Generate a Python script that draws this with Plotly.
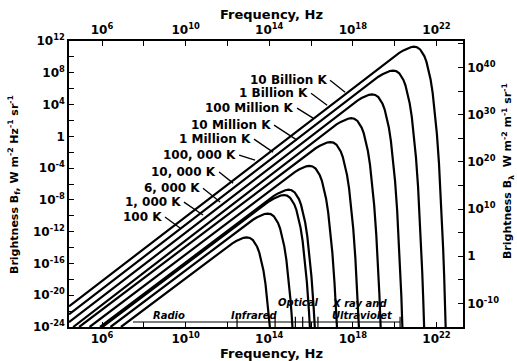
import plotly.graph_objects as go

# ---- data: log10(frequency / Hz) and log10(brightness) ----
lognu_100 = [6.905, 11.92, 12.22, 12.42, 12.62, 12.77, 12.92, 13.07, 13.22, 13.42, 13.52, 13.62, 13.72, 13.82, 13.92, 13.97, 14.03]
logb_100 = [-24.0, -14.03, -13.50, -13.18, -12.91, -12.78, -12.72, -12.79, -13.06, -13.90, -14.60, -15.56, -16.85, -18.56, -20.77, -22.12, -24.0]

lognu_1000 = [6.405, 12.92, 13.22, 13.42, 13.62, 13.77, 13.92, 14.07, 14.22, 14.42, 14.52, 14.62, 14.72, 14.82, 14.92, 15.02, 15.07, 15.11]
logb_1000 = [-24.0, -11.03, -10.50, -10.18, -9.91, -9.78, -9.72, -9.79, -10.06, -10.90, -11.60, -12.56, -13.85, -15.56, -17.77, -20.65, -22.38, -24.0]

lognu_6000 = [6.016, 13.70, 14.00, 14.20, 14.40, 14.55, 14.70, 14.85, 15.00, 15.20, 15.30, 15.40, 15.50, 15.60, 15.70, 15.80, 15.90, 15.945]
logb_6000 = [-24.0, -8.70, -8.17, -7.85, -7.58, -7.45, -7.39, -7.46, -7.73, -8.57, -9.27, -10.23, -11.52, -13.23, -15.44, -18.32, -22.01, -24.0]

lognu_1e4 = [5.905, 13.92, 14.22, 14.42, 14.62, 14.77, 14.92, 15.07, 15.22, 15.42, 15.52, 15.62, 15.72, 15.82, 15.92, 16.02, 16.12, 16.18]
logb_1e4 = [-24.0, -8.03, -7.50, -7.18, -6.91, -6.78, -6.72, -6.79, -7.06, -7.90, -8.60, -9.56, -10.85, -12.56, -14.77, -17.65, -21.34, -24.0]

lognu_1e5 = [5.405, 14.92, 15.22, 15.42, 15.62, 15.77, 15.92, 16.07, 16.22, 16.42, 16.52, 16.62, 16.72, 16.82, 16.92, 17.02, 17.12, 17.17, 17.24]
logb_1e5 = [-24.0, -5.03, -4.50, -4.18, -3.91, -3.78, -3.72, -3.79, -4.06, -4.90, -5.60, -6.56, -7.85, -9.56, -11.77, -14.65, -18.34, -20.56, -24.0]

lognu_1e6 = [4.905, 15.92, 16.22, 16.42, 16.62, 16.77, 16.92, 17.07, 17.22, 17.42, 17.52, 17.62, 17.72, 17.82, 17.92, 18.02, 18.12, 18.22, 18.29]
logb_1e6 = [-24.0, -2.03, -1.50, -1.18, -0.91, -0.78, -0.72, -0.79, -1.06, -1.90, -2.60, -3.56, -4.85, -6.56, -8.77, -11.65, -15.34, -20.07, -24.0]

lognu_1e7 = [4.62, 16.92, 17.22, 17.42, 17.62, 17.77, 17.92, 18.07, 18.22, 18.42, 18.52, 18.62, 18.72, 18.82, 18.92, 19.02, 19.12, 19.22, 19.27, 19.33]
logb_1e7 = [-24.0, 0.97, 1.50, 1.82, 2.09, 2.22, 2.28, 2.21, 1.94, 1.10, 0.40, -0.56, -1.85, -3.56, -5.77, -8.65, -12.34, -17.07, -19.90, -24.0]

lognu_1e8 = [4.42, 17.92, 18.22, 18.42, 18.62, 18.77, 18.92, 19.07, 19.22, 19.42, 19.52, 19.62, 19.72, 19.82, 19.92, 20.02, 20.12, 20.22, 20.32, 20.37]
logb_1e8 = [-23.40, 3.97, 4.50, 4.82, 5.09, 5.22, 5.28, 5.21, 4.94, 4.10, 3.40, 2.44, 1.15, -0.56, -2.77, -5.65, -9.34, -14.07, -20.10, -24.0]

lognu_1e9 = [4.42, 18.92, 19.22, 19.42, 19.62, 19.77, 19.92, 20.07, 20.22, 20.42, 20.52, 20.62, 20.72, 20.82, 20.92, 21.02, 21.12, 21.22, 21.32, 21.37, 21.41]
logb_1e9 = [-22.40, 6.97, 7.50, 7.82, 8.09, 8.22, 8.28, 8.21, 7.94, 7.10, 6.40, 5.44, 4.15, 2.44, 0.23, -2.65, -6.34, -11.07, -17.10, -20.70, -24.0]

lognu_1e10 = [4.42, 19.92, 20.22, 20.42, 20.62, 20.77, 20.92, 21.07, 21.22, 21.42, 21.52, 21.62, 21.72, 21.82, 21.92, 22.02, 22.12, 22.22, 22.32, 22.37, 22.42, 22.44]
logb_1e10 = [-21.40, 9.97, 10.50, 10.82, 11.09, 11.22, 11.28, 11.21, 10.94, 10.10, 9.40, 8.44, 7.15, 5.44, 3.23, 0.35, -3.34, -8.07, -14.10, -17.70, -21.77, -24.0]

curve_names = ["100 K", "1, 000 K", "6, 000 K", "10, 000 K", "100, 000 K",
               "1 Million K", "10 Million K", "100 Million K", "1 Billion K", "10 Billion K"]
curve_nu = [lognu_100, lognu_1000, lognu_6000, lognu_1e4, lognu_1e5,
            lognu_1e6, lognu_1e7, lognu_1e8, lognu_1e9, lognu_1e10]
curve_b = [logb_100, logb_1000, logb_6000, logb_1e4, logb_1e5,
           logb_1e6, logb_1e7, logb_1e8, logb_1e9, logb_1e10]

# label anchor (text right end) and leader line (start, end), log10 units
label_x = [9.01, 9.92, 10.83, 11.60, 12.56, 13.27, 14.23, 15.33, 16.00, 16.91]
label_y = [-10.16, -8.28, -6.52, -4.50, -2.36, -0.35, 1.41, 3.55, 5.43, 7.07]
leader_end_x = [9.73, 10.83, 11.65, 12.27, 13.32, 14.18, 15.33, 16.10, 16.77, 17.63]
leader_end_y = [-11.55, -9.91, -8.28, -5.89, -2.99, -1.99, -0.48, 2.29, 3.92, 5.56]

# spectral band annotations
band_names = ["Radio", "Infrared", "Optical", "X ray and", "Ultraviolet"]
band_x = [9.2, 13.3, 15.38, 18.34, 18.44]
band_y = [-22.49, -22.49, -20.86, -21.05, -22.55]
band_line_x = [7.48, 20.26]
band_line_y = [-23.37, -23.37]
band_tick_x = [12.46, 14.28, 15.25, 15.6, 16.33, 20.26]

# axes ticks (labelled / unlabelled exponents)
x_major = [6, 10, 14, 18, 22]
x_minor = [8, 12, 16, 20]
yl_major = list(range(-24, 13, 4))
yl_minor = list(range(-22, 12, 4))
yr_major = list(range(-10, 41, 10))
yr_minor = list(range(-15, 46, 10))

FONT = "DejaVu Sans"


def pw(e):
    return "<b>1</b>" if e == 0 else "<b>10<sup>%d</sup></b>" % e


def p10(v):
    return 10.0 ** v


fig = go.Figure()

for nu, b in zip(curve_nu, curve_b):
    fig.add_trace(go.Scatter(x=[p10(v) for v in nu], y=[p10(v) for v in b], mode="lines",
                             line=dict(color="black", width=2.2), showlegend=False, hoverinfo="skip"))

for i in range(len(curve_names)):
    fig.add_trace(go.Scatter(x=[p10(label_x[i]), p10(leader_end_x[i])],
                             y=[p10(label_y[i]), p10(leader_end_y[i])], mode="lines",
                             line=dict(color="black", width=1.3), showlegend=False, hoverinfo="skip"))
    fig.add_annotation(x=label_x[i], y=label_y[i], xref="x", yref="y", text="<b>%s</b>" % curve_names[i],
                       showarrow=False, xanchor="right", yanchor="middle", xshift=-1,
                       font=dict(family=FONT, size=12, color="black"))

# band line and ticks
fig.add_trace(go.Scatter(x=[p10(v) for v in band_line_x], y=[p10(v) for v in band_line_y], mode="lines",
                         line=dict(color="black", width=1.2), showlegend=False, hoverinfo="skip"))
for tx in band_tick_x:
    fig.add_trace(go.Scatter(x=[p10(tx), p10(tx)], y=[p10(-22.7), p10(-24)], mode="lines",
                             line=dict(color="black", width=1.2), showlegend=False, hoverinfo="skip"))
for name, bx, by in zip(band_names, band_x, band_y):
    fig.add_annotation(x=bx, y=by, xref="x", yref="y", text="<b><i>%s</i></b>" % name, showarrow=False,
                       font=dict(family=FONT, size=10, color="black"))

# dummy trace for the secondary axes
fig.add_trace(go.Scatter(x=[], y=[], xaxis="x2", yaxis="y2", showlegend=False))

axis_common = dict(showgrid=False, zeroline=False, showline=True, linecolor="black", linewidth=1.5,
                   ticks="inside", ticklen=5, tickwidth=1.3, tickcolor="black", automargin=False,
                   tickfont=dict(family=FONT, size=12, color="black"))


def minor(exps):
    return dict(tickvals=[p10(e) for e in exps], ticks="inside", ticklen=5, tickwidth=1.3,
                tickcolor="black", showgrid=False)


fig.update_layout(
    width=517, height=361, autosize=False,
    margin=dict(l=69, r=54, t=41, b=34),
    paper_bgcolor="white", plot_bgcolor="white",
    xaxis=dict(type="log", range=[4.42, 23.27],
               tickvals=[p10(e) for e in x_major], ticktext=[pw(e) for e in x_major],
               minor=minor(x_minor), **axis_common),
    xaxis2=dict(type="log", range=[4.42, 23.27], overlaying="x", side="top", anchor="y",
                tickvals=[p10(e) for e in x_major], ticktext=[pw(e) for e in x_major],
                minor=minor(x_minor), **axis_common),
    yaxis=dict(type="log", range=[-24, 12],
               tickvals=[p10(e) for e in yl_major], ticktext=[pw(e) for e in yl_major],
               minor=minor(yl_minor), **axis_common),
    yaxis2=dict(type="log", range=[-15.0, 45.6], overlaying="y", side="right", anchor="x",
                tickvals=[p10(e) for e in yr_major], ticktext=[pw(e) for e in yr_major],
                minor=minor(yr_minor), **axis_common),
)

# axis titles
fig.add_annotation(x=0.513, y=1.094, xref="paper", yref="paper", text="<b>Frequency, Hz</b>", showarrow=False,
                   xanchor="center", yanchor="middle", font=dict(family=FONT, size=13, color="black"))
fig.add_annotation(x=0.513, y=-0.093, xref="paper", yref="paper", text="<b>Frequency, Hz</b>", showarrow=False,
                   xanchor="center", yanchor="middle", font=dict(family=FONT, size=13, color="black"))
fig.add_annotation(x=-0.1396, y=0.50, xref="paper", yref="paper", textangle=-90, showarrow=False,
                   xanchor="center", yanchor="middle",
                   text="<b>Brightness B<sub>f</sub>, W m<sup>-2</sup> Hz<sup>-1</sup> sr<sup>-1</sup></b>",
                   font=dict(family=FONT, size=11, color="black"))
fig.add_annotation(x=1.114, y=0.545, xref="paper", yref="paper", textangle=-90, showarrow=False,
                   xanchor="center", yanchor="middle",
                   text="<b>Brightness B<sub>λ</sub>  W m<sup>-2</sup> m<sup>-1</sup> sr<sup>-1</sup></b>",
                   font=dict(family=FONT, size=11, color="black"))

fig.write_html("out.html", config={"displayModeBar": False},
               post_script="document.body.style.margin='0px';document.body.style.padding='0px';")
